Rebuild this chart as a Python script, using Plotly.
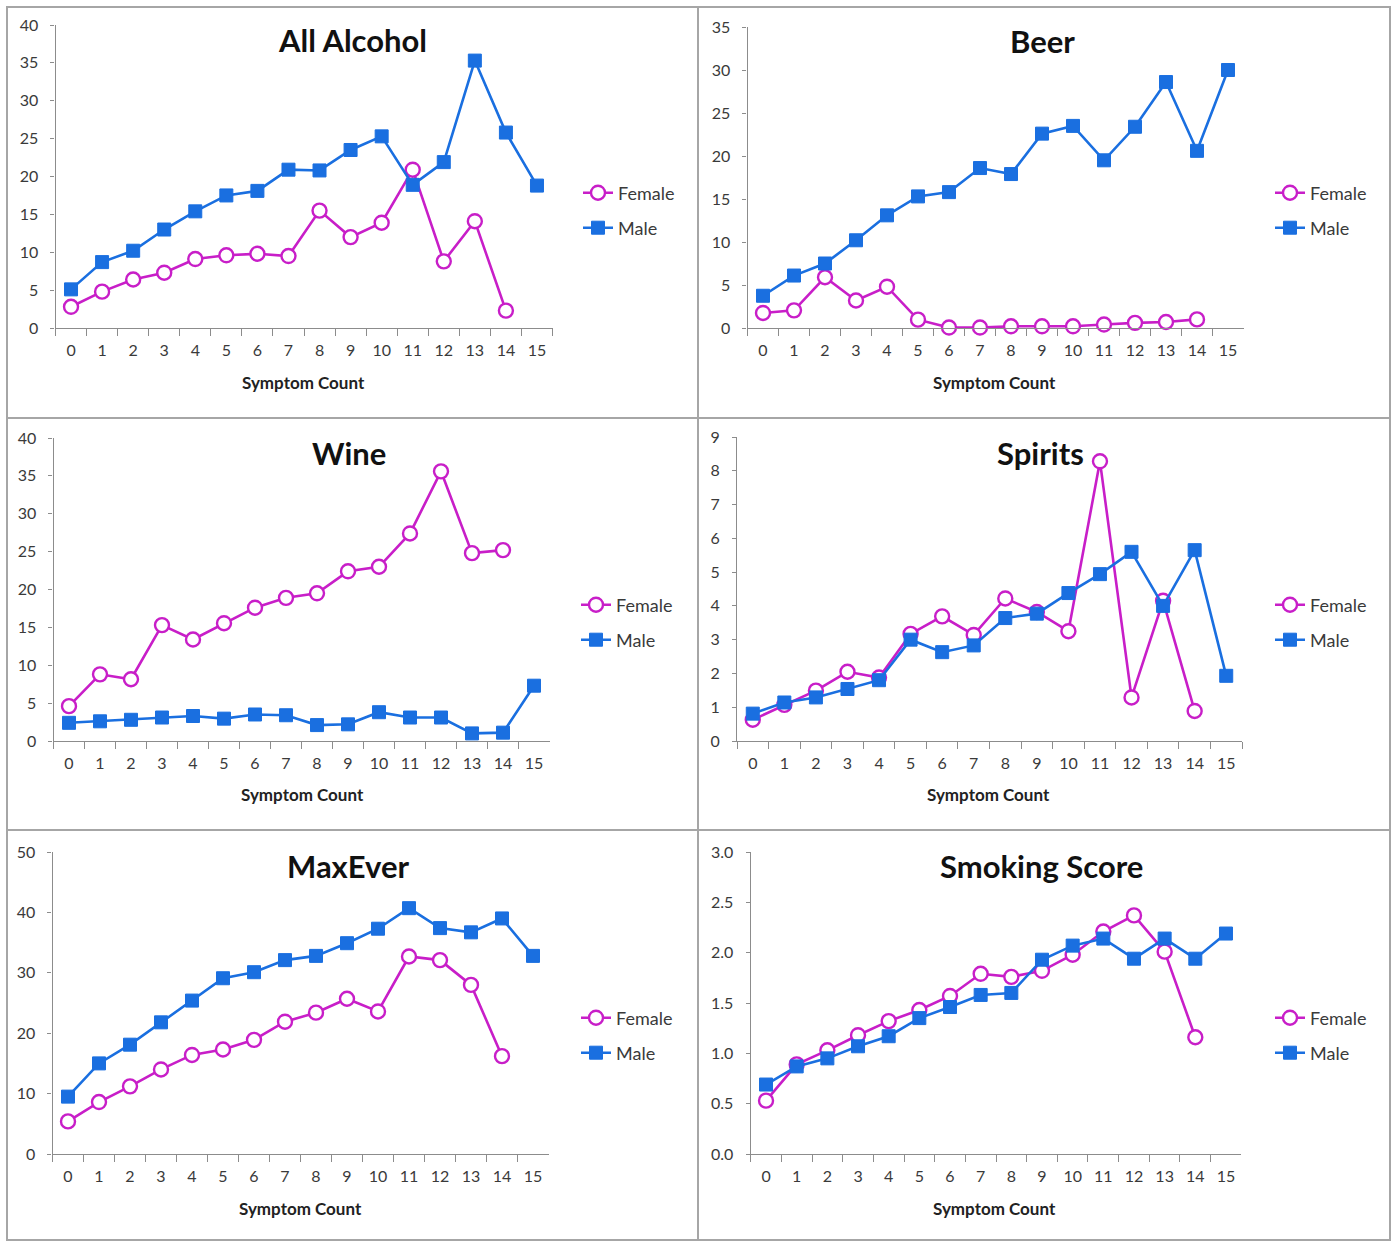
import plotly.graph_objects as go

# Symptom count categories on the x axis
symptom_count = ["0", "1", "2", "3", "4", "5", "6", "7", "8", "9",
                 "10", "11", "12", "13", "14", "15"]

# Mean values by symptom count (female has no group at 15)
all_alcohol_female = [2.8, 4.8, 6.4, 7.3, 9.1, 9.6, 9.8, 9.5, 15.5, 12.0, 13.9, 20.9, 8.8, 14.1, 2.3]
all_alcohol_male = [5.1, 8.7, 10.2, 13.0, 15.4, 17.5, 18.1, 20.9, 20.8, 23.5, 25.3, 18.9, 21.9, 35.3, 25.8, 18.8]

beer_female = [1.75, 2.05, 5.9, 3.2, 4.8, 0.97, 0.05, 0.05, 0.2, 0.2, 0.2, 0.4, 0.6, 0.7, 1.0]
beer_male = [3.75, 6.1, 7.5, 10.2, 13.1, 15.3, 15.8, 18.6, 17.9, 22.6, 23.5, 19.5, 23.4, 28.6, 20.6, 30.0]

wine_female = [4.6, 8.8, 8.15, 15.3, 13.4, 15.55, 17.6, 18.9, 19.5, 22.4, 23.0, 27.4, 35.6, 24.8, 25.2]
wine_male = [2.4, 2.6, 2.8, 3.1, 3.3, 2.95, 3.5, 3.4, 2.1, 2.2, 3.8, 3.1, 3.1, 1.0, 1.1, 7.3]

spirits_female = [0.63, 1.07, 1.49, 2.05, 1.88, 3.17, 3.69, 3.14, 4.22, 3.82, 3.25, 8.28, 1.29, 4.15, 0.89]
spirits_male = [0.81, 1.14, 1.29, 1.54, 1.8, 3.0, 2.63, 2.83, 3.64, 3.77, 4.38, 4.94, 5.6, 4.0, 5.65, 1.93]

maxever_female = [5.4, 8.6, 11.2, 14.0, 16.4, 17.3, 18.9, 21.9, 23.4, 25.7, 23.6, 32.7, 32.1, 28.0, 16.2]
maxever_male = [9.5, 15.0, 18.1, 21.8, 25.4, 29.1, 30.1, 32.1, 32.8, 34.9, 37.3, 40.7, 37.4, 36.7, 39.0, 32.8]

smoking_female = [0.53, 0.89, 1.03, 1.18, 1.32, 1.43, 1.57, 1.79, 1.76, 1.82, 1.98, 2.21, 2.37, 2.01, 1.16]
smoking_male = [0.69, 0.87, 0.95, 1.07, 1.17, 1.35, 1.46, 1.58, 1.6, 1.93, 2.07, 2.14, 1.94, 2.14, 1.94, 2.19]

titles = ["All Alcohol", "Beer", "Wine", "Spirits", "MaxEver", "Smoking Score"]
series_labels = ["Female", "Male"]

W, H = 1395, 1241
FONT = "Lato"
FEMALE_COLOR = "#c81ec8"
MALE_COLOR = "#1a6fe0"
AXIS_COLOR = "#8c8c8c"
TEXT_COLOR = "#3a3a3a"


def px(x):
    return x / W


def py(y):
    return 1 - y / H


# Plot-area pixel boxes (left, right, top, bottom) and axis settings per panel
panels = [
    dict(title=titles[0], f=all_alcohol_female, m=all_alcohol_male,
         box=(55.5, 552.5, 25, 328), yr=40, dt=5, fmt="d",
         tpos=(352, 40), xt=(303, 382), leg=(578, 193, 228)),
    dict(title=titles[1], f=beer_female, m=beer_male,
         box=(747.5, 1243.5, 27, 328), yr=35, dt=5, fmt="d",
         tpos=(1042, 41), xt=(995, 382), leg=(1270, 193, 228)),
    dict(title=titles[2], f=wine_female, m=wine_male,
         box=(53.5, 549.5, 438, 741), yr=40, dt=5, fmt="d",
         tpos=(349, 453), xt=(302, 794), leg=(576, 605, 640)),
    dict(title=titles[3], f=spirits_female, m=spirits_male,
         box=(737, 1242, 437, 741), yr=9, dt=1, fmt="d",
         tpos=(1040, 453), xt=(988, 794), leg=(1270, 605, 640)),
    dict(title=titles[4], f=maxever_female, m=maxever_male,
         box=(52.5, 548.5, 852, 1154), yr=50, dt=10, fmt="d",
         tpos=(348, 866), xt=(300, 1208), leg=(576, 1018, 1053)),
    dict(title=titles[5], f=smoking_female, m=smoking_male,
         box=(750.7, 1241.3, 852, 1154), yr=3.0, dt=0.5, fmt=".1f",
         tpos=(1041, 866), xt=(995, 1208), leg=(1270, 1018, 1053)),
]

fig = go.Figure()
layout = dict(
    template="none",
    width=W, height=H,
    margin=dict(l=0, r=0, t=0, b=0, pad=0, autoexpand=False),
    paper_bgcolor="white", plot_bgcolor="white",
    font=dict(family=FONT, color=TEXT_COLOR),
    showlegend=True,
    annotations=[], shapes=[],
)

for i, p in enumerate(panels):
    n = i + 1
    xa = "x" if n == 1 else f"x{n}"
    ya = "y" if n == 1 else f"y{n}"
    left, right, top, bottom = p["box"]
    lf = f"legend{2 * i + 1}" if i > 0 else "legend"
    lm = f"legend{2 * i + 2}"

    fig.add_trace(go.Scatter(
        x=symptom_count[:len(p["f"])], y=p["f"], name=series_labels[0],
        xaxis=xa, yaxis=ya, mode="lines+markers", cliponaxis=False,
        line=dict(color=FEMALE_COLOR, width=2.6),
        marker=dict(symbol="circle", size=14, color="white",
                    line=dict(color=FEMALE_COLOR, width=2.4)),
        legend=lf,
    ))
    fig.add_trace(go.Scatter(
        x=symptom_count[:len(p["m"])], y=p["m"], name=series_labels[1],
        xaxis=xa, yaxis=ya, mode="lines+markers", cliponaxis=False,
        line=dict(color=MALE_COLOR, width=2.6),
        marker=dict(symbol="square", size=13, color=MALE_COLOR,
                    line=dict(color=MALE_COLOR, width=1)),
        legend=lm,
    ))

    xkey = "xaxis" if n == 1 else f"xaxis{n}"
    ykey = "yaxis" if n == 1 else f"yaxis{n}"
    layout[xkey] = dict(
        domain=[px(left), px(right)], anchor=ya, automargin=False,
        type="category", categoryorder="array", categoryarray=symptom_count,
        range=[-0.5, 15.5], tickson="boundaries",
        ticks="outside", ticklen=7, tickcolor=AXIS_COLOR, tickwidth=1.2,
        ticklabelstandoff=8,
        showline=True, linecolor=AXIS_COLOR, linewidth=1.2,
        showgrid=False, zeroline=False, fixedrange=True,
        tickfont=dict(family=FONT, size=16, color=TEXT_COLOR),
    )
    layout[ykey] = dict(
        domain=[py(bottom), py(top)], anchor=xa, automargin=False,
        range=[0, p["yr"]], dtick=p["dt"], tick0=0, tickformat=p["fmt"],
        ticks="outside", ticklen=4, tickcolor=AXIS_COLOR, tickwidth=1.2,
        ticklabelstandoff=9,
        showline=True, linecolor=AXIS_COLOR, linewidth=1.2,
        showgrid=False, zeroline=False, fixedrange=True,
        tickfont=dict(family=FONT, size=16, color=TEXT_COLOR),
    )

    lx, fy, my = p["leg"]
    for key, yy in ((lf, fy), (lm, my)):
        layout[key] = dict(
            x=px(lx), y=py(yy), xanchor="left", yanchor="middle",
            bgcolor="rgba(0,0,0,0)", borderwidth=0,
            font=dict(family=FONT, size=18, color=TEXT_COLOR),
            itemwidth=30, tracegroupgap=0,
        )

    tx, ty = p["tpos"]
    layout["annotations"].append(dict(
        text=f"<b>{p['title']}</b>", x=px(tx), y=py(ty),
        xref="paper", yref="paper", xanchor="center", yanchor="middle",
        showarrow=False, font=dict(family=FONT, size=31, color="#111111"),
    ))
    cx, cy = p["xt"]
    layout["annotations"].append(dict(
        text="<b>Symptom Count</b>", x=px(cx), y=py(cy),
        xref="paper", yref="paper", xanchor="center", yanchor="middle",
        showarrow=False, font=dict(family=FONT, size=17, color="#222222"),
    ))

# Panel frames
frame_x = [7, 698, 1390]
frame_y = [7, 418, 830, 1240]
for r in range(3):
    for c in range(2):
        layout["shapes"].append(dict(
            type="rect", xref="paper", yref="paper",
            x0=px(frame_x[c]), x1=px(frame_x[c + 1]),
            y0=py(frame_y[r + 1]), y1=py(frame_y[r]),
            line=dict(color="#a6a6a6", width=2),
        ))

fig.update_layout(**layout)
fig.write_html("out.html")
